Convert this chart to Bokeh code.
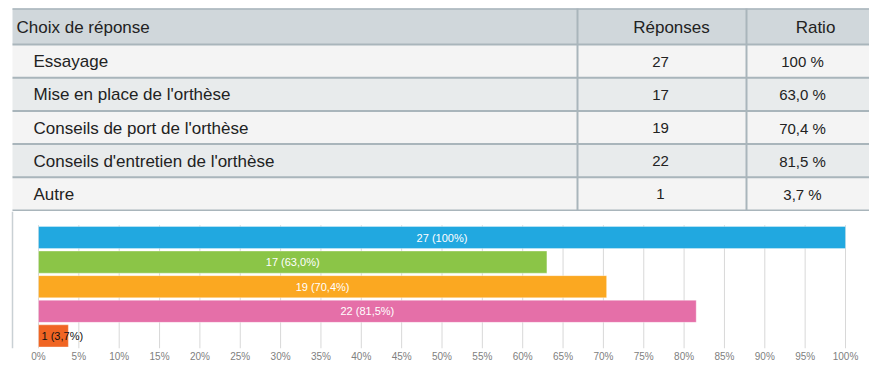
from bokeh.plotting import figure
from bokeh.models import Range1d, ColumnDataSource, FixedTicker, PrintfTickFormatter, Span
from bokeh.layouts import column
from bokeh.core.properties import value
from bokeh.embed import file_html
from bokeh.resources import INLINE

# ---------------- data ----------------
HEADERS = ["Choix de réponse", "Réponses", "Ratio"]
CHOICES = [
    "Essayage",
    "Mise en place de l'orthèse",
    "Conseils de port de l'orthèse",
    "Conseils d'entretien de l'orthèse",
    "Autre",
]
RESPONSES = [27, 17, 19, 22, 1]
RATIOS = [100.0, 63.0, 70.4, 81.5, 3.7]
RATIO_LABELS = ["100 %", "63,0 %", "70,4 %", "81,5 %", "3,7 %"]
BAR_LABELS = ["27 (100%)", "17 (63,0%)", "19 (70,4%)", "22 (81,5%)", "1 (3,7%)"]
BAR_COLORS = ["#21a8e0", "#8bc547", "#fba821", "#e56fa8", "#f06523"]
X_TICKS = [0, 5, 10, 15, 20, 25, 30, 35, 40, 45, 50, 55, 60, 65, 70, 75, 80, 85, 90, 95, 100]

FONT = "Liberation Sans"

# ---------------- table (page-pixel layout) ----------------
W = 869
TBL_H = 211
TBL_LEFT, TBL_RIGHT = 12, W
COL1, COL2 = 577, 746
HEAD_TOP, HEAD_BOT = 8, 44
ROW_H = 33.2
BORDER = "#a9b5bb"

tbl = figure(width=W, height=TBL_H,
             x_range=Range1d(0, W),
             y_range=Range1d(TBL_H, 0),
             output_backend="svg", toolbar_location=None,
             x_axis_location=None, y_axis_location=None,
             min_border=0, outline_line_color=None,
             background_fill_color="white", border_fill_color="white")
tbl.grid.visible = False

n = len(CHOICES)
row_tops = [HEAD_BOT + i * ROW_H for i in range(n)]
row_bots = [t + ROW_H for t in row_tops]
row_mid = [t + ROW_H / 2 + 0.5 for t in row_tops]
row_fill = ["#f4f4f4" if i % 2 == 0 else "#e8ebec" for i in range(n)]

tbl.quad(left=TBL_LEFT, right=TBL_RIGHT, top=HEAD_TOP, bottom=HEAD_BOT,
         fill_color="#d0d7db", line_color=None)
tbl.quad(left=TBL_LEFT, right=TBL_RIGHT, top=row_tops, bottom=row_bots,
         fill_color=row_fill, line_color=None)

hlines = [HEAD_BOT] + row_bots
tbl.segment(x0=TBL_LEFT, x1=TBL_RIGHT, y0=hlines, y1=hlines,
            line_color=BORDER, line_width=2)
tbl.segment(x0=TBL_LEFT, x1=TBL_RIGHT, y0=HEAD_TOP + 0.5, y1=HEAD_TOP + 0.5,
            line_color=BORDER, line_width=1.5)
tbl.segment(x0=[COL1, COL2], x1=[COL1, COL2], y0=HEAD_TOP, y1=row_bots[-1],
            line_color=BORDER, line_width=2)

head_y = (HEAD_TOP + HEAD_BOT) / 2 + 1
tbl.text(x=[16], y=[head_y], text=[HEADERS[0]], text_font=value(FONT),
         text_font_size="17px", text_color="#222222",
         text_align="left", text_baseline="middle")
tbl.text(x=[671, 815], y=[head_y, head_y], text=HEADERS[1:], text_font=value(FONT),
         text_font_size="17px", text_color="#222222",
         text_align="center", text_baseline="middle")
tbl.text(x=[33] * n, y=row_mid, text=CHOICES, text_font=value(FONT),
         text_font_size="17px", text_color="#222222",
         text_align="left", text_baseline="middle")
tbl.text(x=[660] * n, y=row_mid, text=[str(v) for v in RESPONSES], text_font=value(FONT),
         text_font_size="15px", text_color="#222222",
         text_align="center", text_baseline="middle")
tbl.text(x=[802] * n, y=row_mid, text=RATIO_LABELS, text_font=value(FONT),
         text_font_size="15px", text_color="#222222",
         text_align="center", text_baseline="middle")

# ---------------- bar chart ----------------
CH_H = 160
CH_TOP = TBL_H
BOX_LEFT_PX = 12             # page x of chart box left border
X0_PX, X100_PX = 38, 845     # page x of 0% and 100%
unit = (X100_PX - X0_PX) / 100.0
XS = -X0_PX / unit
XE = XS + W / unit

FRAME_BOT_PX = 348
frame_h = FRAME_BOT_PX - CH_TOP
AX_H = CH_H - frame_h
PITCH = 24.6
FIRST_CENTER_PX = 237
YT = -(FIRST_CENTER_PX - CH_TOP) / PITCH
YB = YT + frame_h / PITCH

ch = figure(width=W, height=CH_H,
            x_range=Range1d(XS, XE), y_range=Range1d(YB, YT),
            output_backend="svg", toolbar_location=None,
            y_axis_location=None,
            min_border_left=0, min_border_right=0,
            min_border_top=0, min_border_bottom=AX_H,
            outline_line_color=None,
            background_fill_color="white", border_fill_color="white")
ch.grid.visible = False

idx = list(range(n))
ch.segment(x0=X_TICKS, x1=X_TICKS, y0=-0.5, y1=YB, line_color="#d8d8d8", line_width=1)

src = ColumnDataSource(dict(y=idx, right=RATIOS, color=BAR_COLORS, label=BAR_LABELS))
ch.hbar(y="y", left=0, right="right", height=0.9, fill_color="color",
        line_color="white", line_alpha=0.35, line_width=1, source=src)

inside = [i for i in idx if RATIOS[i] >= 15]
outside = [i for i in idx if RATIOS[i] < 15]
ch.text(x=[RATIOS[i] / 2 for i in inside], y=inside, text=[BAR_LABELS[i] for i in inside],
        text_font=value(FONT), text_font_size="11px", text_color="white",
        text_align="center", text_baseline="middle")
ch.text(x=[0] * len(outside), y=outside, text=[BAR_LABELS[i] for i in outside],
        x_offset=3, text_font=value(FONT), text_font_size="11px", text_color="#111111",
        text_align="left", text_baseline="middle")

ch.add_layout(Span(location=XS + BOX_LEFT_PX / unit, dimension="height",
                   line_color="#c9d0d4", line_width=1.5))

ch.xaxis.ticker = FixedTicker(ticks=X_TICKS)
ch.xaxis.formatter = PrintfTickFormatter(format="%d%%")
ch.xaxis.axis_line_color = None
ch.xaxis.major_tick_line_color = None
ch.xaxis.minor_tick_line_color = None
ch.xaxis.major_tick_in = 0
ch.xaxis.major_tick_out = 0
ch.xaxis.minor_tick_in = 0
ch.xaxis.minor_tick_out = 0
ch.xaxis.major_label_standoff = 2
ch.xaxis.major_label_text_font = FONT
ch.xaxis.major_label_text_font_size = "10px"
ch.xaxis.major_label_text_color = "#808080"

layout = column(tbl, ch, spacing=0)
open("out.html", "w").write(file_html(layout, INLINE))
